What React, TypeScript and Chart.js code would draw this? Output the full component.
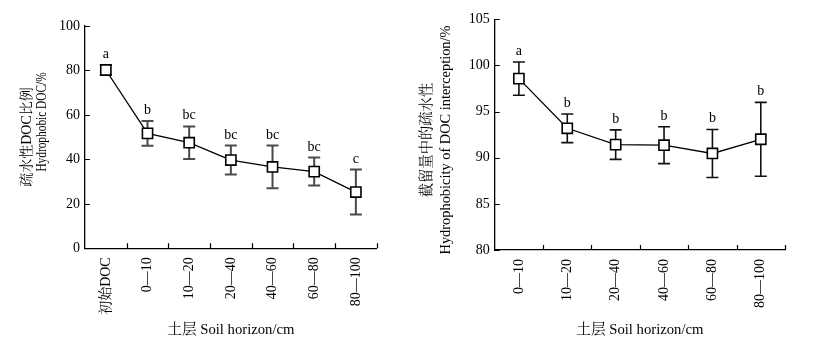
import React, { useEffect, useRef } from 'react';
import { Chart, registerables } from 'chart.js';
Chart.register(...registerables);

const leftCategories = ['初始DOC', '0—10', '10—20', '20—40', '40—60', '60—80', '80—100'];
const leftValues = [80.2, 51.7, 47.5, 39.7, 36.6, 34.5, 25.3];
const leftErrors = [2.2, 5.6, 7.3, 6.5, 9.6, 6.3, 10.1];
const leftLetters = ['a', 'b', 'bc', 'bc', 'bc', 'bc', 'c'];
const leftYMin = 0;
const leftYMax = 100;
const leftYStep = 20;

const rightCategories = ['0—10', '10—20', '20—40', '40—60', '60—80', '80—100'];
const rightValues = [98.57, 93.19, 91.42, 91.36, 90.46, 92.0];
const rightErrors = [1.8, 1.55, 1.6, 2.0, 2.6, 4.0];
const rightLetters = ['a', 'b', 'b', 'b', 'b', 'b'];
const rightYMin = 80;
const rightYMax = 105;
const rightYStep = 5;

const xTitle = '土层 Soil horizon/cm';
const leftYTitle = ['疏水性DOC比例', 'Hydrophobic DOC/%'];
const rightYTitle = ['截留量中的疏水性', 'Hydrophobicity of DOC interception/%'];

const FONT = "'Liberation Serif', 'Times New Roman', 'Noto Serif CJK SC', 'Noto Sans CJK SC', serif";

type Cfg = {
  categories: string[];
  values: number[];
  errors: number[];
  letters: string[];
  yMin: number;
  yMax: number;
  yStep: number;
  yTitle: string[];
  yTitleX: number[];
  yTitleY: number[];
  yTitleSize: number[];
  yTitleStretch: number[];
  yWidth: number;
  xHeight: number;
  padTop: number;
  padRight: number;
  errColor: string;
  errWidth: number;
};

function makeChart(canvas: HTMLCanvasElement, c: Cfg) {
  const plugin = {
    id: 'custom',
    beforeDatasetsDraw(chart: any) {
      const ctx = chart.ctx;
      const x = chart.scales.x;
      const y = chart.scales.y;
      ctx.save();
      ctx.strokeStyle = c.errColor;
      ctx.lineWidth = c.errWidth;
      c.values.forEach((v, i) => {
        const px = x.getPixelForValue(i);
        const top = y.getPixelForValue(v + c.errors[i]);
        const bot = y.getPixelForValue(v - c.errors[i]);
        ctx.beginPath();
        ctx.moveTo(px, top);
        ctx.lineTo(px, bot);
        ctx.moveTo(px - 6, top);
        ctx.lineTo(px + 6, top);
        ctx.moveTo(px - 6, bot);
        ctx.lineTo(px + 6, bot);
        ctx.stroke();
        ctx.fillStyle = '#000';
        ctx.font = `14px ${FONT}`;
        ctx.textAlign = 'center';
        ctx.textBaseline = 'alphabetic';
        ctx.fillText(c.letters[i], px, top - 7);
      });
      ctx.restore();
    },
    afterDraw(chart: any) {
      const ctx = chart.ctx;
      const x = chart.scales.x;
      const y = chart.scales.y;
      const area = chart.chartArea;
      ctx.save();
      ctx.strokeStyle = '#000';
      ctx.lineWidth = 1.2;
      ctx.beginPath();
      y.ticks.forEach((t: any) => {
        const py = Math.round(y.getPixelForValue(t.value)) + 0.5;
        ctx.moveTo(area.left, py);
        ctx.lineTo(area.left + 5, py);
      });
      for (let i = 0; i < c.categories.length; i++) {
        const px = Math.round(x.getPixelForValue(i + 0.5)) + 0.5;
        ctx.moveTo(px, area.bottom);
        ctx.lineTo(px, area.bottom - 5);
      }
      ctx.stroke();
      ctx.fillStyle = '#000';
      ctx.textAlign = 'center';
      ctx.textBaseline = 'middle';
      c.yTitle.forEach((t, i) => {
        ctx.save();
        ctx.font = `${c.yTitleSize[i]}px ${FONT}`;
        ctx.translate(c.yTitleX[i], c.yTitleY[i]);
        ctx.rotate(-Math.PI / 2);
        ctx.scale(c.yTitleStretch[i], 1);
        ctx.fillText(t, 0, 0);
        ctx.restore();
      });
      ctx.restore();
    },
  };

  return new Chart(canvas, {
    type: 'line',
    data: {
      labels: c.categories,
      datasets: [
        {
          data: c.values,
          borderColor: '#000',
          borderWidth: 1.3,
          pointStyle: 'rect',
          pointRadius: 7.2,
          pointBorderWidth: 1.6,
          pointBackgroundColor: '#fff',
          pointBorderColor: '#000',
          tension: 0,
          fill: false,
        },
      ],
    },
    options: {
      animation: false,
      responsive: false,
      layout: { padding: { top: c.padTop, right: c.padRight, left: 0, bottom: 0 } },
      plugins: { legend: { display: false }, tooltip: { enabled: false } },
      scales: {
        x: {
          type: 'category',
          offset: true,
          grid: { display: false, drawTicks: false },
          border: { display: true, color: '#000', width: 1.3 },
          ticks: {
            autoSkip: false,
            minRotation: 90,
            maxRotation: 90,
            padding: 9,
            color: '#000',
            font: { family: FONT, size: 14 },
          },
          title: {
            display: true,
            text: xTitle,
            color: '#000',
            font: { family: FONT, size: 14.7 },
            padding: { top: 0, bottom: 22 },
          },
          afterFit: (s: any) => {
            s.height = c.xHeight;
          },
        },
        y: {
          min: c.yMin,
          max: c.yMax,
          grid: { display: false, drawTicks: false },
          border: { display: true, color: '#000', width: 1.3 },
          ticks: {
            stepSize: c.yStep,
            padding: 5,
            color: '#000',
            font: { family: FONT, size: 14 },
          },
          afterFit: (s: any) => {
            s.width = c.yWidth;
          },
        },
      },
    } as any,
    plugins: [plugin],
  });
}

function Panel({ cfg }: { cfg: Cfg }) {
  const ref = useRef<HTMLCanvasElement>(null);
  useEffect(() => {
    if (!ref.current) return;
    const ch = makeChart(ref.current, cfg);
    return () => ch.destroy();
  }, []);
  return <canvas ref={ref} width={414} height={361} style={{ width: 414, height: 361, display: 'block' }} />;
}

const leftCfg: Cfg = {
  categories: leftCategories,
  values: leftValues,
  errors: leftErrors,
  letters: leftLetters,
  yMin: leftYMin,
  yMax: leftYMax,
  yStep: leftYStep,
  yTitle: leftYTitle,
  yTitleX: [27, 42],
  yTitleY: [137, 122],
  yTitleSize: [14, 14],
  yTitleStretch: [1, 0.81],
  yWidth: 85,
  xHeight: 361 - 248.3,
  padTop: 26,
  padRight: 414 - 376.7,
  errColor: '#4a4a4a',
  errWidth: 2,
};

const rightCfg: Cfg = {
  categories: rightCategories,
  values: rightValues,
  errors: rightErrors,
  letters: rightLetters,
  yMin: rightYMin,
  yMax: rightYMax,
  yStep: rightYStep,
  yTitle: rightYTitle,
  yTitleX: [13, 32],
  yTitleY: [140, 140],
  yTitleSize: [14.3, 14.4],
  yTitleStretch: [1, 1],
  yWidth: 80.7,
  xHeight: 361 - 250,
  padTop: 19.3,
  padRight: 43,
  errColor: '#111',
  errWidth: 1.6,
};

export default function App() {
  return (
    <div style={{ position: 'fixed', left: 0, top: 0, width: 828, height: 361, display: 'flex', background: '#fff' }}>
      <Panel cfg={leftCfg} />
      <Panel cfg={rightCfg} />
    </div>
  );
}
